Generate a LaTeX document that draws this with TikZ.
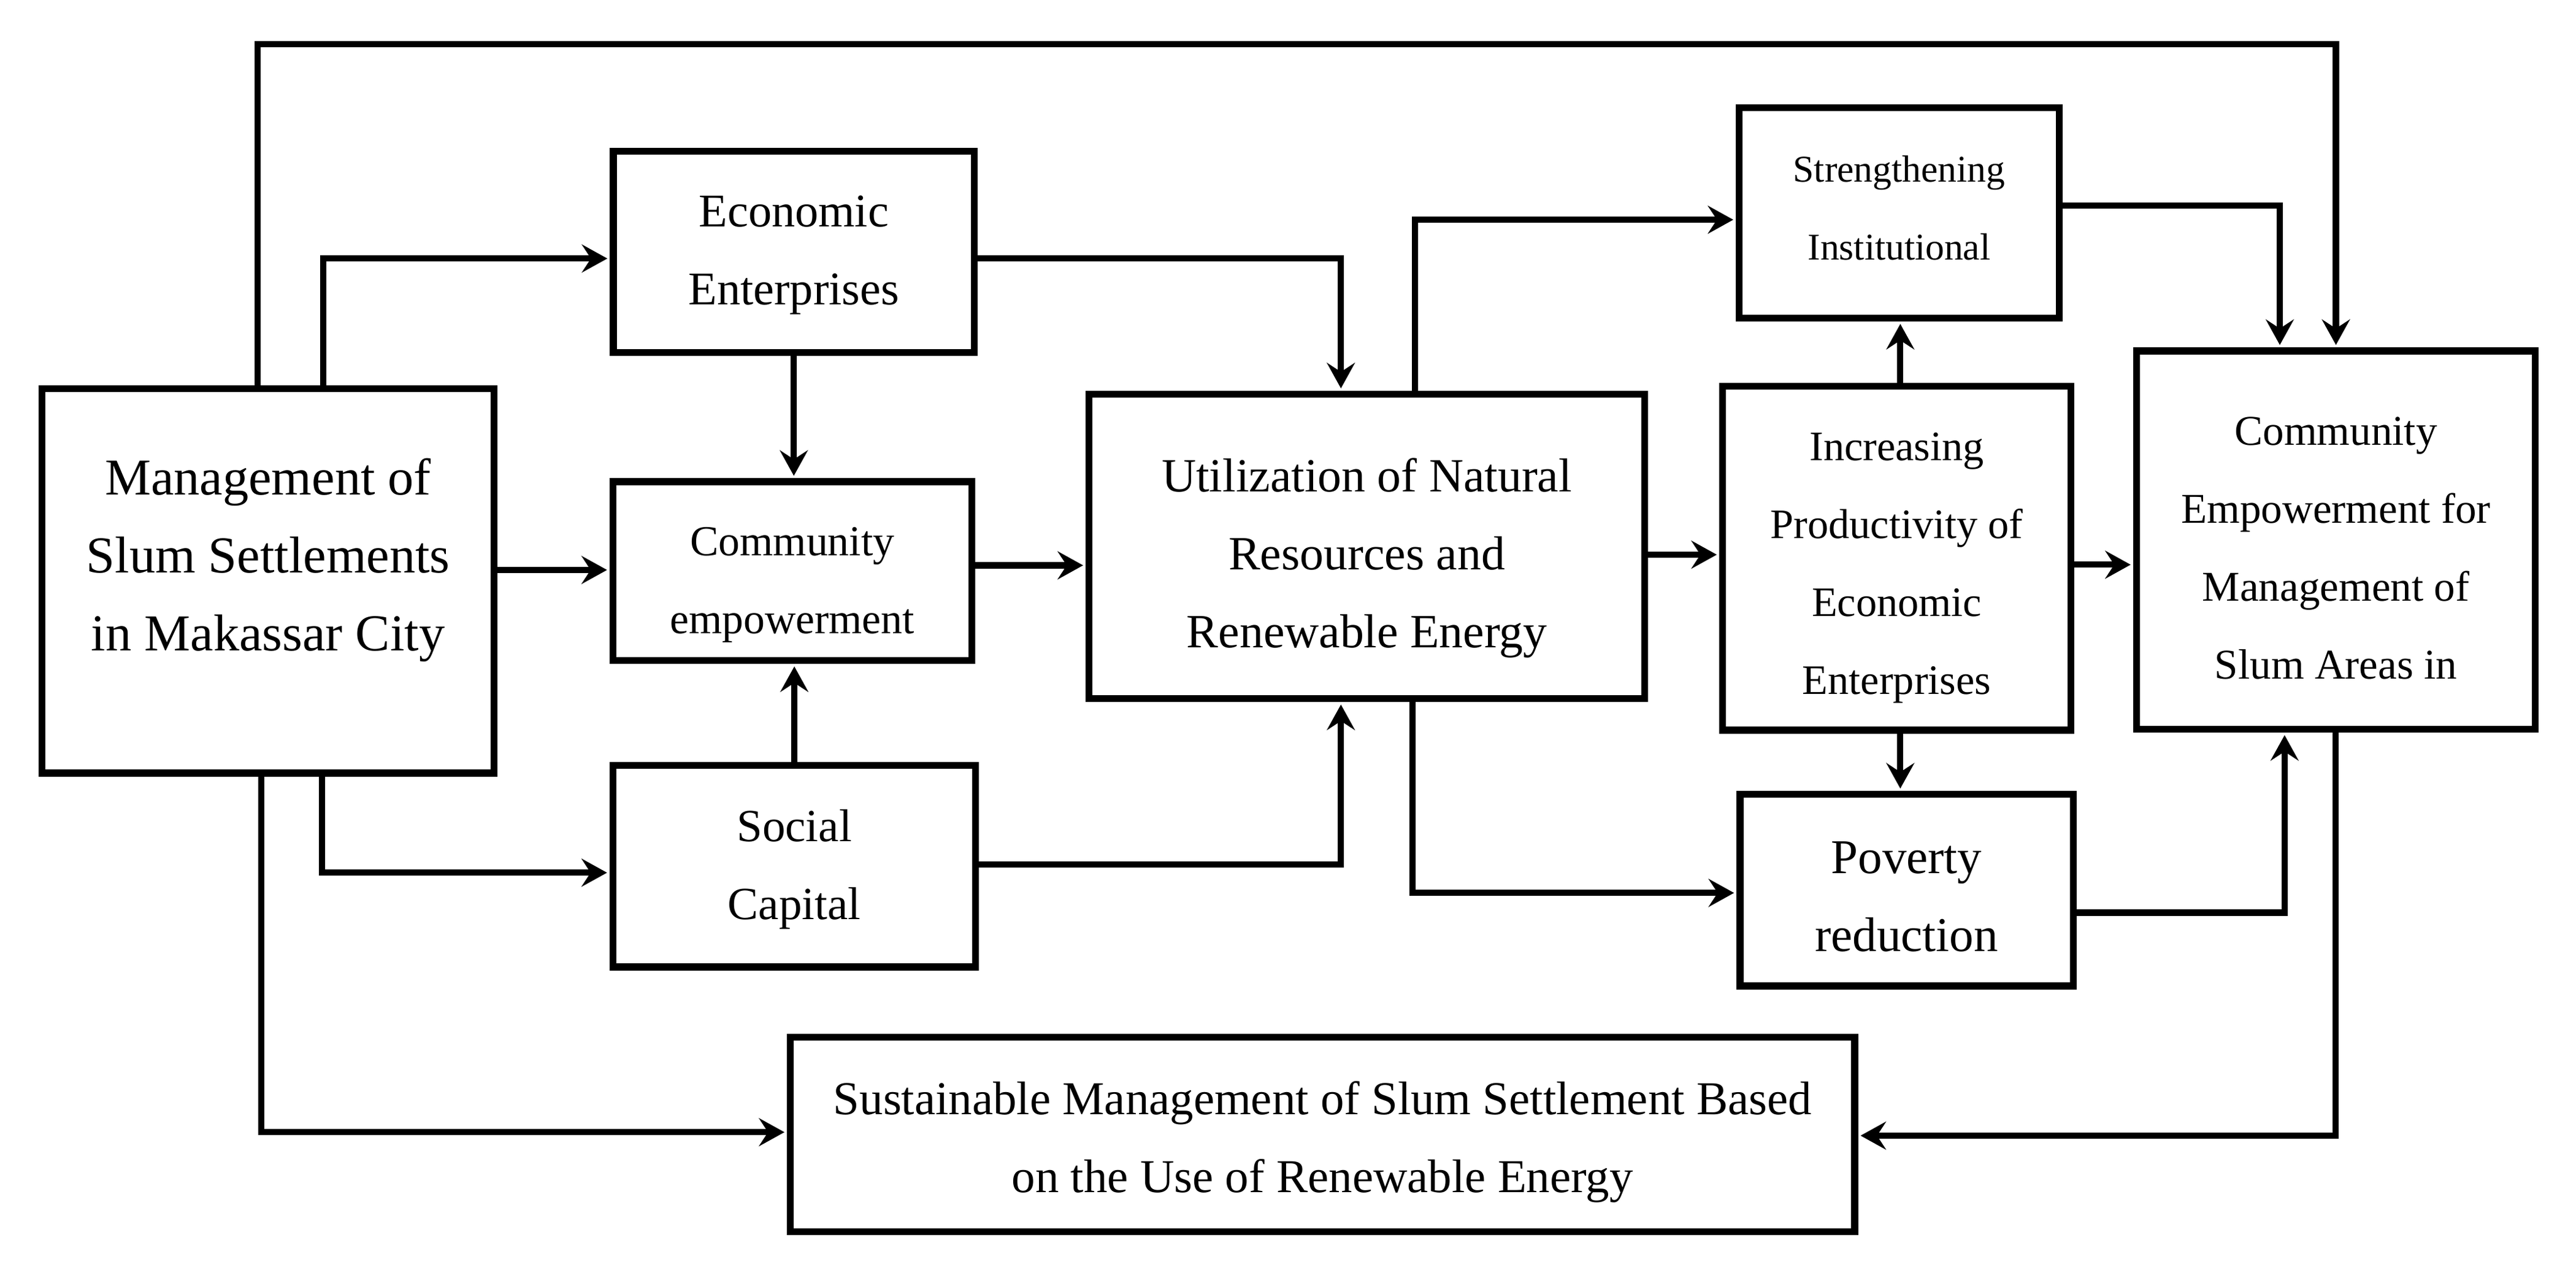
\documentclass[tikz,border=0pt]{standalone}
\usepackage{fontspec}
\setmainfont{Liberation Serif}
\usetikzlibrary{arrows.meta}
\begin{document}
\begin{tikzpicture}[x=1pt,y=-1pt,
  box/.style={draw=black,line width=4.2pt,inner sep=0pt},
  lbl/.style={align=center,inner sep=0pt},
  arr/.style={draw=black,line width=3.8pt,-{Stealth[length=15.5pt,width=17pt,inset=5.5pt]},shorten >=1.5pt},
  fs/.style={font=\fontsize{#1}{47.5}\selectfont}]
\useasboundingbox (0,0) rectangle (1568,770.6);
% boxes
\node[box,minimum width=275.2pt,minimum height=234pt] (M) at (163.2,353.4) {};
\node[box,minimum width=219.8pt,minimum height=122.5pt] (E) at (483.2,153.35) {};
\node[box,minimum width=218.3pt,minimum height=108.8pt] (C) at (482.25,347.5) {};
\node[box,minimum width=220.8pt,minimum height=122.8pt] (S) at (483.5,527) {};
\node[box,minimum width=338.2pt,minimum height=185.2pt] (U) at (832,332.5) {};
\node[box,minimum width=194.7pt,minimum height=127.9pt] (ST) at (1156,129.55) {};
\node[box,minimum width=211.9pt,minimum height=209.4pt] (I) at (1154.55,339.6) {};
\node[box,minimum width=202.8pt,minimum height=116.5pt] (P) at (1160.5,541.65) {};
\node[box,minimum width=242.7pt,minimum height=230.2pt] (CE) at (1421.85,328.6) {};
\node[box,minimum width=647.8pt,minimum height=118.3pt] (SU) at (805,690.25) {};
% texts
\node[lbl,fs=31.5] (Mt) at ([yshift=12.5pt]M.center) {Management of\\Slum Settlements\\in Makassar City};
\node[lbl,fs=28.5] (Et) at ([yshift=-2pt]E.center) {Economic\\Enterprises};
\node[lbl,fs=26] (Ct) at ([yshift=-8.5pt]C.center) {Community\\empowerment};
\node[lbl,fs=28] (St) at ([yshift=-2pt]S.center) {Social\\Capital};
\node[lbl,fs=29] (Ut) at ([yshift=-7pt]U.center) {Utilization of Natural\\Resources and\\Renewable Energy};
\node[lbl,fs=23] (STt) at ([yshift=3pt]ST.center) {Strengthening\\Institutional};
\node[lbl,fs=25.5] (It) at ([yshift=-6pt]I.center) {Increasing\\Productivity of\\Economic\\Enterprises};
\node[lbl,fs=29.5] (Pt) at ([yshift=-4pt]P.center) {Poverty\\reduction};
\node[lbl,fs=25.8] (CEt) at ([yshift=-5pt]CE.center) {Community\\Empowerment for\\Management of\\Slum Areas in};
\node[lbl,fs=28.7] (SUt) at ([yshift=-4.5pt]SU.center) {Sustainable Management of Slum Settlement Based\\on the Use of Renewable Energy};
% connectors
\draw[arr] (156.7,0 |- M.north) |- (CE.north |- 0,26.9) -- (CE.north);
\draw[arr] (196.8,0 |- M.north) |- (E.west |- 0,157.3);
\draw[arr] (M.east |- 0,346.8) -- (C.west |- 0,346.8);
\draw[arr] (196,0 |- M.south) |- (S.west |- 0,531);
\draw[arr] (159,0 |- M.south) |- (SU.west |- 0,688.9);
\draw[arr] (E.south) -- (E.south |- C.north);
\draw[arr] (S.north) -- (S.north |- C.south);
\draw[arr] (E.east |- 0,157.3) -| (816.2,0 |- U.north);
\draw[arr] (C.east |- 0,344) -- (U.west |- 0,344);
\draw[arr] (S.east |- 0,526) -| (816.2,0 |- U.south);
\draw[arr] (861.4,0 |- U.north) |- (ST.west |- 0,133.7);
\draw[arr] (859.8,0 |- U.south) |- (P.west |- 0,543.3);
\draw[arr] (U.east |- 0,337.5) -- (I.west |- 0,337.5);
\draw[arr] (1156.7,0 |- I.north) -- (1156.7,0 |- ST.south);
\draw[arr] (1156.7,0 |- I.south) -- (1156.7,0 |- P.north);
\draw[arr] (I.east |- 0,343.6) -- (CE.west |- 0,343.6);
\draw[arr] (ST.east |- 0,125.1) -| (1387.7,0 |- CE.north);
\draw[arr] (P.east |- 0,555.3) -| (1390.6,0 |- CE.south);
\draw[arr] (1421.6,0 |- CE.south) |- (SU.east |- 0,691);
\end{tikzpicture}
\end{document}
